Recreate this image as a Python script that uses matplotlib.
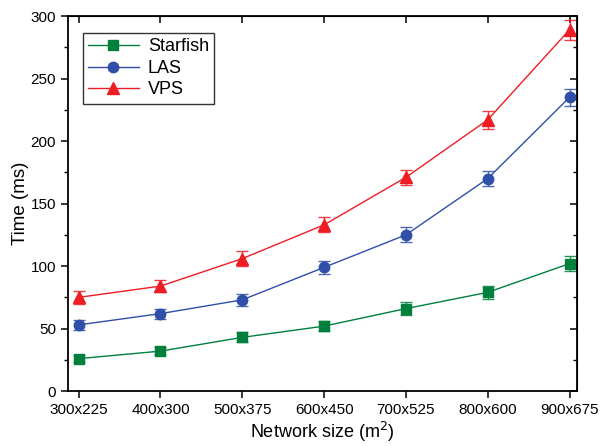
import matplotlib
matplotlib.use("Agg")
import matplotlib.pyplot as plt
from matplotlib.ticker import MultipleLocator

plt.rcParams['font.family'] = ['Liberation Sans', 'DejaVu Sans']

categories = ["300x225", "400x300", "500x375", "600x450", "700x525", "800x600", "900x675"]
starfish = [26, 32, 43, 52, 66, 79, 102]
starfish_err = [3, 3, 4, 4, 5, 5, 6]
las = [53, 62, 73, 99, 125, 170, 235]
las_err = [4, 4, 5, 5, 6, 6, 7]
vps = [75, 84, 106, 133, 171, 217, 289]
vps_err = [5, 5, 6, 6, 6, 7, 8]

fig = plt.figure(figsize=(6.15, 4.46), dpi=100)
ax = fig.add_axes([0.1106, 0.123, 0.8274, 0.841])

x = list(range(len(categories)))
series = [
    ("Starfish", starfish, starfish_err, "#00803C", "s", 6.5),
    ("LAS", las, las_err, "#2F4FA8", "o", 7.5),
    ("VPS", vps, vps_err, "#EE1C25", "^", 8.5),
]
for name, y, e, c, m, ms in series:
    ax.errorbar(x, y, yerr=e, fmt='none', ecolor=c, elinewidth=1.0,
                capsize=4, capthick=1.0, alpha=0.85)
    ax.plot(x, y, color=c, marker=m, markersize=ms, linewidth=1.0, label=name)

ax.set_xlim(-0.13, 6.09)
ax.set_ylim(0, 300)
ax.set_xticks(x)
ax.set_xticklabels(categories)
ax.yaxis.set_major_locator(MultipleLocator(50))
ax.yaxis.set_minor_locator(MultipleLocator(25))

for s in ax.spines.values():
    s.set_linewidth(1.3)

ax.tick_params(axis='both', which='major', direction='out', length=5, width=1.1, labelsize=11)
ax.tick_params(axis='both', which='minor', direction='out', length=3, width=1.0)
axt = ax.secondary_xaxis('top')
axt.set_xticks(x)
axt.set_xticklabels([])
axt.tick_params(direction='in', length=5, width=1.1)
axr = ax.secondary_yaxis('right')
axr.yaxis.set_major_locator(MultipleLocator(50))
axr.yaxis.set_minor_locator(MultipleLocator(25))
axr.set_yticklabels([])
axr.tick_params(which='major', direction='in', length=5, width=1.1)
axr.tick_params(which='minor', direction='in', length=3, width=1.0)

ax.set_xlabel("Network size (m$^2$)", fontsize=13, labelpad=2)
ax.set_ylabel("Time (ms)", fontsize=13.5, labelpad=1)

leg = ax.legend(loc='upper left', fontsize=13, frameon=True, fancybox=False,
                edgecolor='black', borderpad=0.3, handlelength=2.8,
                labelspacing=0.25, handletextpad=0.5, borderaxespad=0,
                bbox_to_anchor=(0.029, 0.955))
leg.get_frame().set_linewidth(1.0)

fig.savefig("out.png", dpi=100)
